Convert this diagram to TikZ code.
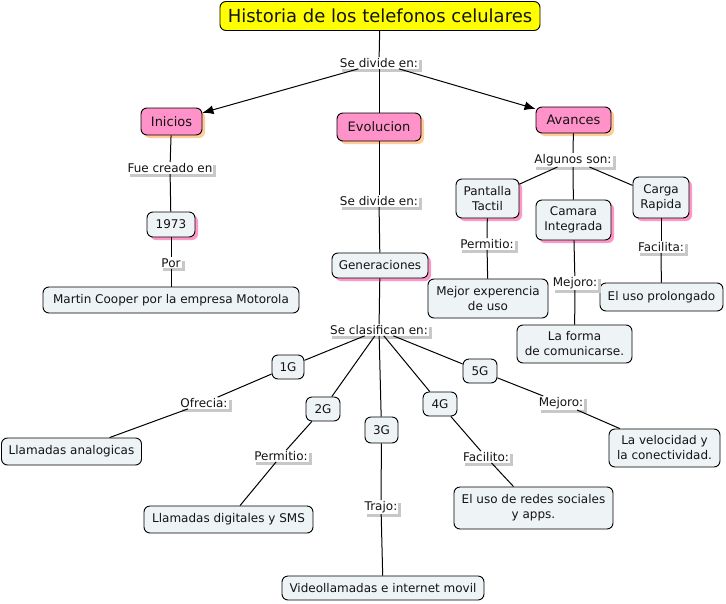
\documentclass[tikz,border=0pt]{standalone}
\usepackage{fontspec}
\setmainfont{DejaVu Sans}
\usetikzlibrary{arrows.meta,shadows}
\definecolor{nodefill}{RGB}{238,243,246}
\definecolor{pinkfill}{RGB}{255,146,200}
\definecolor{peach}{RGB}{255,204,153}
\definecolor{pinkshadow}{RGB}{255,150,200}
\definecolor{lgray}{RGB}{200,200,200}
\definecolor{titlefill}{RGB}{255,255,0}
\definecolor{txt}{RGB}{20,20,20}
\tikzset{
  cn/.style={draw=black, rounded corners=6pt, fill=nodefill, line width=0.9pt, inner sep=0pt, align=center, text=txt, font=\fontsize{12}{15}\selectfont},
  psh/.style={drop shadow={fill=pinkshadow, opacity=1, shadow xshift=3pt, shadow yshift=-3pt}},
  pk/.style={cn, fill=pinkfill, font=\fontsize{13}{15}\selectfont, drop shadow={fill=peach, opacity=1, shadow xshift=3pt, shadow yshift=-3pt}},
  lnk/.style={fill=white, inner sep=1pt, text=txt, font=\fontsize{12}{14}\selectfont, drop shadow={fill=lgray, opacity=1, shadow xshift=3pt, shadow yshift=-3pt}},
  con/.style={draw=black, line width=1pt},
  arr/.style={con, -{Latex[length=11pt,width=9pt]}}
}
\begin{document}
\begin{tikzpicture}[x=1pt,y=-1pt]
\useasboundingbox[fill=white] (0,0) rectangle (726,603);
% concepts
\node[cn, fill=titlefill, font=\fontsize{18}{20}\selectfont, minimum width=320pt, minimum height=29pt] (title) at (380,16) {Historia de los telefonos celulares};
\node[pk, minimum width=61pt, minimum height=27pt] (inicios) at (171.5,121.5) {Inicios};
\node[pk, minimum width=84pt, minimum height=28pt] (evol) at (379,127) {Evolucion};
\node[pk, minimum width=75pt, minimum height=26pt] (avances) at (573.5,120) {Avances};
\node[cn, psh, minimum width=48pt, minimum height=25pt] (y1973) at (171,224.5) {1973};
\node[cn, minimum width=256pt, minimum height=26pt] (martin) at (171,300) {Martin Cooper por la empresa Motorola};
\node[cn, psh, minimum width=96pt, minimum height=25pt] (gen) at (380,265.5) {Generaciones};
\node[cn, psh, minimum width=63pt, minimum height=39pt] (pant) at (487.5,198.5) {Pantalla\\Tactil};
\node[cn, psh, minimum width=75pt, minimum height=40pt] (cam) at (573.5,220) {Camara\\Integrada};
\node[cn, psh, minimum width=56pt, minimum height=41pt] (carga) at (661,197.5) {Carga\\Rapida};
\node[cn, minimum width=120pt, minimum height=39pt] (mejexp) at (488,298.5) {Mejor experencia\\de uso};
\node[cn, minimum width=123pt, minimum height=28pt] (prol) at (661.5,297) {El uso prolongado};
\node[cn, minimum width=115pt, minimum height=38pt] (forma) at (574.5,344) {La forma\\de comunicarse.};
\node[cn, minimum width=32pt, minimum height=24pt] (g1) at (288,367) {1G};
\node[cn, minimum width=34pt, minimum height=24pt] (g2) at (323,409) {2G};
\node[cn, minimum width=33pt, minimum height=26pt] (g3) at (381.5,430) {3G};
\node[cn, minimum width=34pt, minimum height=24pt] (g4) at (440,404) {4G};
\node[cn, minimum width=34pt, minimum height=24pt] (g5) at (480,371) {5G};
\node[cn, minimum width=140pt, minimum height=27pt] (analog) at (71.5,451.5) {Llamadas analogicas};
\node[cn, minimum width=169pt, minimum height=27pt] (digit) at (228.5,519.5) {Llamadas digitales y SMS};
\node[cn, minimum width=202pt, minimum height=24pt] (video) at (383,588) {Videollamadas e internet movil};
\node[cn, minimum width=159pt, minimum height=42pt] (redes) at (533.5,508) {El uso de redes sociales\\y apps.};
\node[cn, minimum width=111pt, minimum height=38pt] (veloc) at (664.5,448) {La velocidad y\\la conectividad.};
% linking phrases
\node[lnk] (l1) at (379,63) {Se divide en:};
\node[lnk] (l2) at (170,168) {Fue creado en};
\node[lnk] (l3) at (171,263) {Por};
\node[lnk] (l4) at (379,201) {Se divide en:};
\node[lnk] (l5) at (379,330) {Se clasifican en:};
\node[lnk] (ofre) at (204,403) {Ofrecia:};
\node[lnk] (perm) at (281,456) {Permitio:};
\node[lnk] (trajo) at (381,507) {Trajo:};
\node[lnk] (facilito) at (486,457) {Facilito:};
\node[lnk] (mej) at (561,403) {Mejoro:};
\node[lnk] (alg) at (573,160) {Algunos son:};
\node[lnk] (perm2) at (487,244) {Permitio:};
\node[lnk] (mej2) at (575,283) {Mejoro:};
\node[lnk] (facilita) at (661,247) {Facilita:};
% connectors
\draw[con] (title) -- (l1);
\draw[arr] (l1) -- (inicios);
\draw[arr] (l1) -- (avances);
\draw[con] (l1) -- (evol);
\draw[con] (inicios) -- (l2);
\draw[con] (l2) -- (y1973);
\draw[con] (y1973) -- (l3);
\draw[con] (l3) -- (martin);
\draw[con] (evol) -- (l4);
\draw[con] (l4) -- (gen);
\draw[con] (gen) -- (l5);
\draw[con] (l5) -- (g1);
\draw[con] (l5) -- (g2);
\draw[con] (l5) -- (g3);
\draw[con] (l5) -- (g4);
\draw[con] (l5) -- (g5);
\draw[con] (g1) -- (ofre);
\draw[con] (ofre) -- (analog);
\draw[con] (g2) -- (perm);
\draw[con] (perm) -- (digit);
\draw[con] (g3) -- (trajo);
\draw[con] (trajo) -- (video);
\draw[con] (g4) -- (facilito);
\draw[con] (facilito) -- (redes);
\draw[con] (g5) -- (mej);
\draw[con] (mej) -- (veloc);
\draw[con] (avances) -- (alg);
\draw[con] (alg) -- (pant);
\draw[con] (alg) -- (cam);
\draw[con] (alg) -- (carga);
\draw[con] (pant) -- (perm2);
\draw[con] (perm2) -- (mejexp);
\draw[con] (cam) -- (mej2);
\draw[con] (mej2) -- (forma);
\draw[con] (carga) -- (facilita);
\draw[con] (facilita) -- (prol);
\end{tikzpicture}
\end{document}
